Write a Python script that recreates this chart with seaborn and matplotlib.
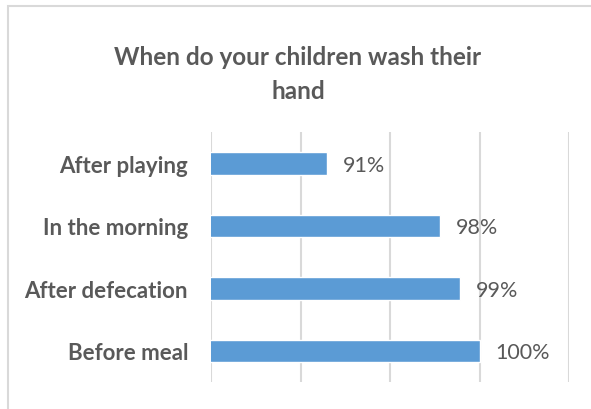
import matplotlib
matplotlib.use("Agg")
import matplotlib.pyplot as plt
import seaborn as sns
import pandas as pd
from matplotlib.patches import Rectangle

categories = ["After playing", "In the morning", "After defecation", "Before meal"]
values = [91.5, 97.8, 98.9, 100.0]
labels = ["91%", "98%", "99%", "100%"]

df = pd.DataFrame({"category": categories, "value": values})

sns.set_theme(style="white")
plt.rcParams["font.family"] = ["Lato", "DejaVu Sans"]

fig = plt.figure(figsize=(5.91, 4.10), dpi=100)
W, H = 591, 410
ax = fig.add_axes([211 / W, 27 / H, 358 / W, 250 / H])

sns.barplot(data=df, y="category", x="value", orient="h", color="#5B9BD5",
            saturation=1, width=0.36, ax=ax, order=categories)

ax.set_xlim(85, 105)
ax.set_ylim(3.5, -0.5)
ax.set_xticks([85, 90, 95, 100, 105])
ax.xaxis.grid(True, color="#d9d9d9", linewidth=1.5)
ax.set_axisbelow(True)
for s in ax.spines.values():
    s.set_visible(False)
ax.tick_params(axis="x", length=0, labelbottom=False)
ax.tick_params(axis="y", length=0, pad=16.5, labelsize=16, labelcolor="#595959")
for t in ax.get_yticklabels():
    t.set_fontweight("bold")
ax.set_xlabel("")
ax.set_ylabel("")

for i, (v, lab) in enumerate(zip(values, labels)):
    ax.annotate(lab, xy=(v, i), xytext=(11.5, -1), textcoords="offset points",
                ha="left", va="center", fontsize=15.5, color="#595959")

fig.text(298 / W, 1 - 65 / H, "When do your children wash their",
         ha="center", va="baseline", fontsize=17.5, fontweight="bold",
         color="#595959")
fig.text(298 / W, 1 - 99 / H, "hand",
         ha="center", va="baseline", fontsize=17.5, fontweight="bold",
         color="#595959")

fig.patches.append(Rectangle((8 / W, -0.1), 1.2, 1 - 7 / H + 0.1, transform=fig.transFigure,
                             fill=False, edgecolor="#d9d9d9", linewidth=1.5))

fig.savefig("out.png", dpi=100)
